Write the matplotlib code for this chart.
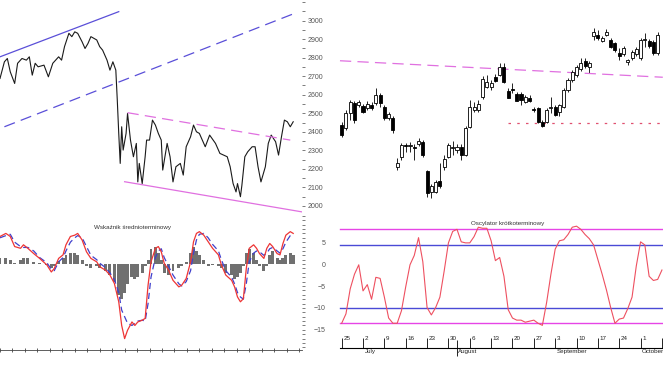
import matplotlib
matplotlib.use("Agg")
import matplotlib.pyplot as plt
import matplotlib.transforms as mtransforms
from matplotlib.ticker import MultipleLocator

plt.rcParams['font.family'] = ['Liberation Sans', 'DejaVu Sans']

# ---- top left: index close, long view (trading-day index) ----
wig_day = [0, 3, 5, 7, 10, 12, 15, 18, 20, 22,
           24, 26, 30, 33, 36, 40, 42, 44, 47, 49,
           51, 53, 56, 58, 60, 62, 66, 68, 70, 73,
           75, 77, 79, 80, 81, 82, 83, 84, 86, 87,
           89, 91, 93, 94, 95, 97, 99, 100, 102, 104,
           106, 108, 110, 111, 114, 116, 118, 120, 123, 125,
           127, 130, 132, 134, 136, 140, 143, 147, 150, 155,
           157, 159, 161, 162, 164, 165, 167, 169, 172, 174,
           176, 178, 181, 183, 185, 188, 190, 192, 194, 196,
           198, 200]
wig_close = [2688, 2778, 2796, 2724, 2661, 2770, 2796, 2787, 2805, 2706,
             2770, 2751, 2760, 2697, 2770, 2805, 2787, 2860, 2932, 2914,
             2940, 2932, 2886, 2850, 2877, 2914, 2896, 2860, 2841, 2787,
             2733, 2778, 2733, 2571, 2391, 2229, 2427, 2301, 2391, 2499,
             2355, 2265, 2337, 2129, 2229, 2120, 2265, 2355, 2355, 2463,
             2436, 2391, 2355, 2193, 2337, 2265, 2129, 2211, 2229, 2166,
             2319, 2373, 2436, 2400, 2391, 2319, 2382, 2337, 2283, 2265,
             2211, 2120, 2075, 2120, 2049, 2111, 2265, 2292, 2319, 2319,
             2211, 2129, 2211, 2337, 2382, 2346, 2274, 2373, 2463, 2454,
             2427, 2454]

# trend lines drawn on the long chart (day, value) end points
up_solid_day, up_solid_val = [0, 81], [2805, 3049]
up_dash_day, up_dash_val = [3, 202], [2427, 3043]
down_dash_day, down_dash_val = [87, 198], [2503, 2355]
down_solid_day, down_solid_val = [85, 206], [2130, 1967]

# ---- bottom left: medium-term indicator ----
mid_day = [0, 4, 7, 10, 14, 16, 19, 23, 27, 32,
           35, 37, 40, 43, 45, 48, 51, 53, 56, 59,
           62, 66, 68, 72, 75, 78, 81, 83, 85, 87,
           90, 92, 94, 97, 99, 101, 103, 106, 108, 110,
           112, 115, 118, 122, 124, 127, 130, 132, 134, 136,
           139, 142, 145, 149, 151, 154, 158, 160, 162, 164,
           166, 168, 170, 173, 175, 177, 180, 182, 184, 186,
           189, 191, 193, 195, 198, 200]
mid_fast = [6.3, 7.0, 6.3, 4.0, 3.6, 4.4, 3.6, 2.4, 1.3, -0.2,
            -1.8, -1.0, 1.3, 2.1, 4.4, 6.3, 6.6, 7.0, 5.5, 2.8,
            1.3, 0.5, -0.6, -1.4, -2.5, -4.4, -8.6, -14.0, -17.0, -15.1,
            -13.2, -14.0, -13.2, -12.8, -12.4, -4.8, 0.5, 3.6, 4.0, 2.8,
            0.2, -1.4, -3.7, -5.2, -4.8, -3.3, 0.5, 5.1, 7.0, 7.4,
            6.6, 5.1, 3.6, 2.1, -0.2, -2.5, -3.7, -5.2, -7.5, -8.6,
            -7.9, -1.0, 3.6, 4.4, 3.6, 2.4, 1.3, 3.6, 4.7, 4.0,
            2.4, 2.1, 4.7, 6.6, 7.4, 7.0]
mid_slow = [6.0, 6.5, 6.8, 5.0, 4.0, 3.8, 3.8, 3.0, 1.5, 0.3,
            -1.2, -1.5, 0.5, 1.5, 3.0, 5.0, 6.0, 6.5, 6.0, 4.0,
            2.0, 1.0, 0.2, -0.8, -2.0, -3.5, -6.5, -10.5, -12.0, -13.5,
            -14.0, -13.5, -13.0, -12.8, -13.0, -9.0, -3.0, 1.5, 3.0, 3.5,
            1.5, -0.5, -2.5, -4.5, -5.0, -4.0, -1.5, 2.5, 5.5, 6.8,
            7.0, 6.0, 4.5, 3.0, 1.0, -1.5, -3.0, -4.5, -6.5, -7.5,
            -8.0, -4.5, 0.5, 2.5, 3.0, 2.8, 2.0, 2.5, 3.5, 3.8,
            3.0, 2.5, 3.5, 5.0, 6.5, 7.0]
mid_hist = [1.5, 1.5, 1.0, 0.2, 1.0, 1.5, 1.5, 0.5, 0.3, -0.3,
            -1.0, -0.5, 0.8, 1.5, 2.0, 2.5, 2.5, 2.0, 1.0, -0.5,
            -0.8, -0.5, -1.0, -1.5, -2.5, -4.0, -7.0, -8.0, -6.5, -4.5,
            -3.0, -3.5, -3.0, -2.0, -0.5, 1.0, 3.5, 3.8, 2.5, 1.0,
            -2.0, -2.5, -1.5, -1.0, -0.5, 0.5, 2.5, 4.0, 3.0, 2.0,
            1.0, -0.5, -0.3, -0.5, -1.0, -2.0, -2.5, -3.5, -3.0, -2.0,
            -0.5, 2.5, 3.5, 2.5, 1.0, -0.5, -1.5, -0.5, 2.0, 3.0,
            1.5, 1.0, 1.5, 2.0, 2.5, 2.0]

# ---- top right: daily candles, trading days from Mon 25 Jun ----
c_open = [3500, 3488, 3547, 3587, 3580, 3576, 3568, 3580, 3587, 3620,
          3571, 3528, 3527, 3333, 3373, 3420, 3414, 3413, 3424, 3433,
          3317, 3233, 3233, 3276, 3333, 3373, 3406, 3400, 3413, 3380,
          3493, 3560, 3560, 3611, 3653, 3650, 3693, 3700, 3733, 3637,
          3644, 3624, 3624, 3593, 3609, 3562, 3567, 3513, 3513, 3567,
          3573, 3552, 3573, 3640, 3680, 3700, 3723, 3757, 3733, 3856,
          3860, 3837, 3860, 3840, 3827, 3789, 3783, 3753, 3767, 3783,
          3767, 3838, 3837, 3833, 3787]
c_high = [3512, 3560, 3600, 3596, 3600, 3584, 3596, 3592, 3647, 3628,
          3580, 3552, 3536, 3367, 3428, 3428, 3432, 3424, 3448, 3440,
          3320, 3264, 3280, 3348, 3380, 3428, 3436, 3424, 3424, 3496,
          3600, 3592, 3600, 3696, 3700, 3680, 3704, 3748, 3748, 3648,
          3668, 3632, 3632, 3620, 3620, 3573, 3572, 3520, 3568, 3611,
          3580, 3584, 3648, 3688, 3720, 3740, 3767, 3768, 3756, 3888,
          3880, 3856, 3884, 3848, 3832, 3807, 3816, 3764, 3800, 3812,
          3848, 3867, 3844, 3840, 3872]
c_low = [3452, 3480, 3520, 3507, 3572, 3548, 3560, 3560, 3580, 3572,
         3520, 3520, 3467, 3320, 3360, 3392, 3392, 3360, 3416, 3372,
         3213, 3207, 3228, 3248, 3320, 3368, 3380, 3388, 3360, 3376,
         3488, 3552, 3552, 3604, 3648, 3640, 3672, 3696, 3667, 3607,
         3628, 3596, 3580, 3588, 3592, 3552, 3508, 3491, 3508, 3547,
         3536, 3536, 3568, 3632, 3672, 3692, 3716, 3728, 3707, 3840,
         3840, 3832, 3856, 3808, 3792, 3760, 3776, 3740, 3760, 3776,
         3760, 3813, 3808, 3780, 3780]
c_close = [3460, 3548, 3593, 3520, 3592, 3553, 3584, 3568, 3620, 3587,
           3527, 3544, 3480, 3347, 3420, 3414, 3420, 3407, 3437, 3380,
           3227, 3256, 3273, 3256, 3364, 3420, 3413, 3413, 3380, 3487,
           3573, 3573, 3584, 3683, 3673, 3667, 3677, 3731, 3671, 3609,
           3640, 3597, 3600, 3613, 3597, 3558, 3513, 3496, 3560, 3573,
           3540, 3580, 3640, 3680, 3713, 3733, 3747, 3736, 3749, 3873,
           3847, 3847, 3873, 3813, 3800, 3776, 3807, 3760, 3793, 3803,
           3840, 3842, 3816, 3787, 3860]
resist_day, resist_val = [-0.4, 75.2], [3757, 3691]
support_day, support_val = [39, 75.2], [3507, 3507]

# ---- bottom right: short-term oscillator ----
osc = [5, 14, 38, 52, 61, 36, 42, 28, 49, 48,
       30, 10, 5, 5, 17, 40, 61, 70, 87, 64,
       20, 13, 20, 30, 55, 82, 93, 95, 83, 82,
       82, 88, 97, 96, 96, 84, 65, 68, 50, 18,
       10, 8, 8, 6, 7, 8, 5, 3, 25, 52,
       76, 84, 85, 90, 97, 98, 95, 90, 86, 80,
       66, 52, 37, 20, 5, 9, 10, 19, 30, 60,
       83, 80, 50, 46, 47, 56]
osc_levels = [95, 80, 20, 5]
osc_level_colors = ['#e645e6', '#4a4ad6', '#4a4ad6', '#e645e6']

week_days = [0, 5, 10, 15, 20, 25, 30, 35, 40, 45, 50, 55, 60, 65, 70, 75]
week_labels = ['25', '2', '9', '16', '23', '30', '6', '13', '20', '27',
               '3', '10', '17', '24', '1', '8']
month_days = [5, 27, 50, 70]
month_labels = ['July', 'August', 'September', 'October']

W, H = 663, 373
fig = plt.figure(figsize=(W / 100, H / 100), dpi=100)


def box(x0, y0, x1, y1):
    return [x0 / W, 1 - y1 / H, (x1 - x0) / W, (y1 - y0) / H]


ax_tl = fig.add_axes(box(0, 0, 302, 213))
ax_bl = fig.add_axes(box(0, 215, 302, 350))
ax_tr = fig.add_axes(box(336, 0, 663, 215))
ax_br = fig.add_axes(box(336, 215, 663, 347.7))

grey = '#666666'

# top left
ax_tl.plot(wig_day, wig_close, color='#1a1a1a', lw=0.8)
ax_tl.plot(up_solid_day, up_solid_val, color='#5a4fd8', lw=0.9)
ax_tl.plot(up_dash_day, up_dash_val, color='#5a4fd8', lw=0.9, dashes=(9, 5))
ax_tl.plot(down_dash_day, down_dash_val, color='#e070e0', lw=0.9, dashes=(9, 5))
ax_tl.plot(down_solid_day, down_solid_val, color='#e070e0', lw=0.9)
ax_tl.set_xlim(0, 206)
ax_tl.set_ylim(1961, 3112)
ax_tl.yaxis.tick_right()
ax_tl.set_yticks(range(2000, 3001, 100))
ax_tl.yaxis.set_minor_locator(MultipleLocator(50))
ax_tl.set_xticks([])
ax_tl.tick_params(axis='y', which='both', direction='out', length=2.2, width=0.6,
                  color=grey, labelsize=5, labelcolor='#555555', pad=2)
for s in ax_tl.spines.values():
    s.set_visible(False)

# bottom left
ax_bl.bar(mid_day, mid_hist, width=2.0, color='#707070', lw=0)
ax_bl.plot(mid_day, mid_slow, color='#4040cc', lw=0.9, dashes=(5, 3))
ax_bl.plot(mid_day, mid_fast, color='#ee3535', lw=0.9)
ax_bl.set_xlim(0, 206)
ax_bl.set_ylim(-19.6, 11.2)
ax_bl.yaxis.tick_right()
ax_bl.set_yticks([-15, -10, -5, 0, 5])
ax_bl.yaxis.set_minor_locator(MultipleLocator(1))
ax_bl.tick_params(axis='y', which='both', direction='out', length=1.8, width=0.6,
                  color=grey, labelsize=5, labelcolor='#555555', pad=15)
plt.setp(ax_bl.get_yticklabels(), ha='right')
ax_bl.xaxis.set_major_locator(MultipleLocator(8.5))
ax_bl.tick_params(axis='x', direction='inout', length=3.5, width=0.6, color='#444444',
                  labelbottom=False)
for name, s in ax_bl.spines.items():
    s.set_visible(name == 'bottom')
ax_bl.spines['bottom'].set_color('#444444')
ax_bl.spines['bottom'].set_linewidth(0.6)
ax_bl.text(0.44, 0.91, 'Wskaźnik średnioterminowy', transform=ax_bl.transAxes,
           ha='center', va='center', fontsize=4.5, color='#333333')

# top right candles
days = range(len(c_open))
body_low = [min(o, c) for o, c in zip(c_open, c_close)]
body_h = [max(abs(c - o), 3) for o, c in zip(c_open, c_close)]
fills = ['white' if c >= o else 'black' for o, c in zip(c_open, c_close)]
ax_tr.vlines(days, c_low, c_high, color='black', lw=0.6)
ax_tr.bar(days, body_h, bottom=body_low, width=0.72, color=fills,
          edgecolor='black', lw=0.6, zorder=3)
ax_tr.plot(resist_day, resist_val, color='#e070e0', lw=0.9, dashes=(9, 5))
ax_tr.plot(support_day, support_val, color='#e05070', lw=0.9, dashes=(2, 5))
ax_tr.set_xlim(-1.33, 75.25)
ax_tr.set_ylim(3140, 4000)
ax_tr.axis('off')

# bottom right oscillator
for lvl, col in zip(osc_levels, osc_level_colors):
    ax_br.plot([-0.4, 76], [lvl, lvl], color=col, lw=1.0)
ax_br.plot(range(len(osc)), osc, color='#ee5060', lw=0.8)
ax_br.set_xlim(-1.33, 75.25)
ax_br.set_ylim(-18.4, 108.7)
ax_br.set_yticks([])
for name, s in ax_br.spines.items():
    s.set_visible(name == 'bottom')
ax_br.spines['bottom'].set_linewidth(0.8)
ax_br.spines['bottom'].set_bounds(-0.4, 76)
ax_br.set_xticks(week_days)
ax_br.set_xticks(month_days, minor=True)
ax_br.tick_params(axis='x', which='major', direction='in', length=7, width=0.6,
                  labelbottom=False)
ax_br.tick_params(axis='x', which='minor', direction='inout', length=12, width=0.6)
trans = mtransforms.blended_transform_factory(ax_br.transData, ax_br.transAxes)
for d, lab in zip(week_days, week_labels):
    ax_br.text(d + 0.35, 0.066, lab, transform=trans, fontsize=4.5,
               ha='left', va='center', color='#222222', clip_on=False)
for d, lab in zip(month_days, month_labels):
    ax_br.text(d + 0.35, -0.026, lab, transform=trans, fontsize=4.5,
               ha='left', va='center', color='#222222', clip_on=False)
ax_br.text(0.524, 0.937, 'Oscylator krótkoterminowy', transform=ax_br.transAxes,
           ha='center', va='center', fontsize=4.5, color='#333333')

fig.savefig('out.png', dpi=100)
